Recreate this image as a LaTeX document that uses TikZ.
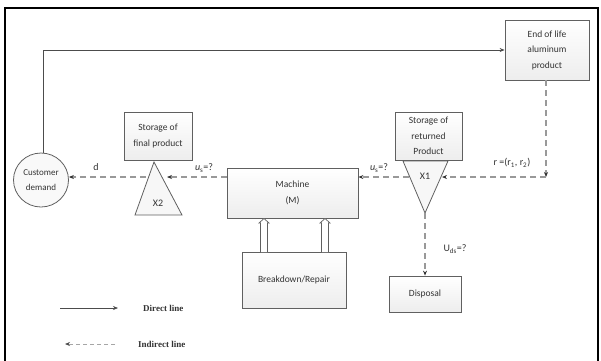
\documentclass[tikz,border=0pt]{standalone}
\usepackage{fontspec}
\setmainfont{Carlito}
\newfontfamily\legendfont{Liberation Serif}
\usetikzlibrary{arrows.meta,shapes.geometric}
\begin{document}
\begin{tikzpicture}[x=1pt,y=-1pt,
  box/.style={draw=gray!75!black, line width=0.8pt, top color=white, bottom color=gray!14,
    align=center, font=\fontsize{9.5}{15.5}\selectfont, text=black!80, inner sep=0pt},
  tri/.style={draw=gray!75!black, line width=0.8pt, fill=gray!6},
  solidarrow/.style={draw=black!70, line width=0.7pt, -{Stealth[length=5pt,width=4pt]}},
  dasharrow/.style={draw=gray!80, line width=1.1pt, dash pattern=on 6pt off 4pt, -{Stealth[length=5pt,width=4pt,gray!40!black]}},
  lbl/.style={font=\fontsize{10}{11}\selectfont, text=black!80, inner sep=0pt},
  legendtxt/.style={font=\legendfont\bfseries\fontsize{9}{11}\selectfont, text=black!80, inner sep=0pt, anchor=west}]
\useasboundingbox (0,0) rectangle (601,360);
% outer frame
\draw[line width=1.2pt, black] (5,365) -- (5,8) -- (598,8) -- (598,365);

% boxes
\node[box, minimum width=84pt, minimum height=60pt] (eol) at (547,50) {End of life\\aluminum\\product};
\node[box, minimum width=67pt, minimum height=48pt] (sret) at (428.5,136) {Storage of\\returned\\Product};
\node[box, minimum width=68pt, minimum height=48pt] (sfin) at (158,136) {Storage of\\final product};
\node[box, minimum width=131pt, minimum height=50pt] (mach) at (292.5,193) {Machine\\(M)};
\node[box, minimum width=104pt, minimum height=56pt] (brk) at (294,280) {Breakdown/Repair};
\node[box, minimum width=72pt, minimum height=36pt] (disp) at (425,294) {Disposal};
\node[ellipse, draw=gray!75!black, line width=0.8pt, fill=gray!5, minimum width=55pt, minimum height=54pt,
  inner sep=0pt, align=center, font=\fontsize{9}{15}\selectfont, text=black!80] (cust) at (41,180) {Customer\\demand};

% storage triangles
\draw[tri] (403,161) -- (448,161) -- (425,213) -- cycle;
\coordinate (x1in) at (442,177);
\coordinate (x1out) at (409,177);
\coordinate (x1tip) at (425,213);
\node[lbl] (x1) at (425,176) {X1};
\draw[tri] (154,162) -- (182,215) -- (135,215) -- cycle;
\coordinate (x2in) at (167,177);
\coordinate (x2out) at (146,177);
\node[lbl] (x2) at (158,203) {X2};

% direct flow: customer demand to end-of-life products
\coordinate (c1) at (43,50);
\draw[solidarrow] (cust.north -| c1) -- (c1) -- (eol.west |- c1);

% indirect flows
\coordinate (rc) at (546,177);
\draw[dasharrow] (eol.south -| rc) -- (rc);
\draw[dasharrow] (rc) -- (x1in);
\draw[dasharrow] (x1out) -- (mach.east |- x1out);
\draw[dasharrow] (x1tip) -- (disp.north);
\draw[dasharrow] (mach.west |- x2in) -- (x2in);
\draw[dasharrow] (x2out) -- (cust.east |- x2out);

% machine breakdown links
\foreach \x in {264,325} {
  \draw[draw=gray!75!black, line width=0.7pt, fill=white]
    (\x-3.5,252) -- (\x-3.5,223) -- (\x-5,223) -- (\x,218.5) -- (\x+5,223) -- (\x+3.5,223) -- (\x+3.5,252);
}

% flow labels
\node[lbl] (lr) at (512,163) {r =(r\textsubscript{1}, r\textsubscript{2})};
\node[lbl] (lus) at (379,168) {\textit{u}\textsubscript{s}=?};
\node[lbl] (lum) at (204,168) {\textit{u}\textsubscript{s}=?};
\node[lbl] (lud) at (455,249) {U\textsubscript{ds}=?};
\node[lbl] (ld) at (96,167) {d};

% legend
\coordinate (la) at (60,308);
\coordinate (lb) at (118,308);
\draw[draw=black!70, line width=0.6pt, -{Stealth[length=5pt,width=4pt]}] (la) -- (lb);
\node[legendtxt] (t1) at (143,308) {Direct line};
\coordinate (lc) at (115,344);
\coordinate (ld2) at (65,344);
\draw[draw=gray!70, line width=0.8pt, dash pattern=on 4pt off 3pt, -{Stealth[length=5pt,width=4pt,black!70]}] (lc) -- (ld2);
\node[legendtxt] (t2) at (138,344) {Indirect line};
\end{tikzpicture}
\end{document}
